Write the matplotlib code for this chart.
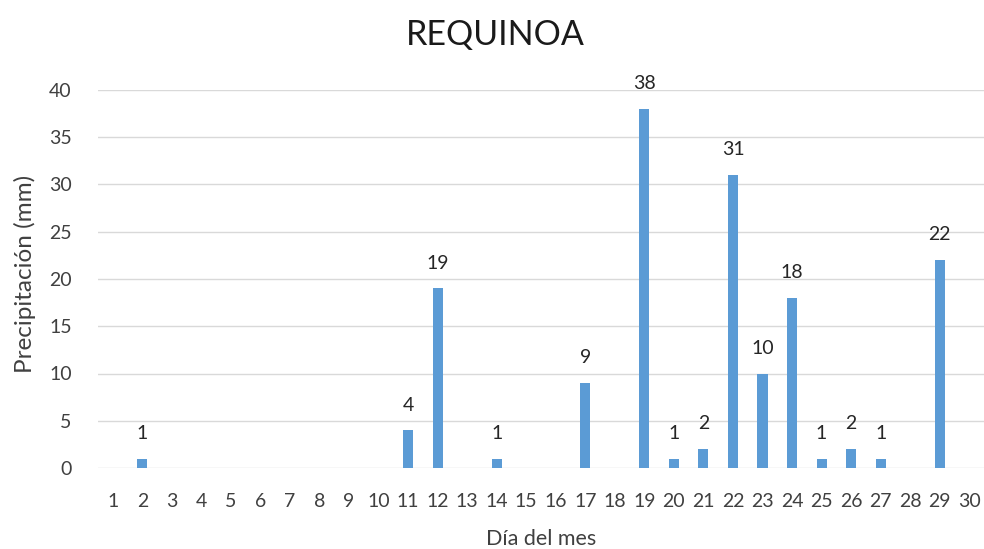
import matplotlib
matplotlib.use("Agg")
import matplotlib.pyplot as plt

days = list(range(1, 31))
values = [None, 1, None, None, None, None, None, None, None, None,
          4, 19, None, 1, None, None, 9, None, 38, 1,
          2, 31, 10, 18, 1, 2, 1, None, 22, None]
y_ticks = [0, 5, 10, 15, 20, 25, 30, 35, 40]
title = "REQUINOA"
xlabel = "Día del mes"
ylabel = "Precipitación (mm)"

plt.rcParams['font.family'] = ['Lato', 'DejaVu Sans']
W, H = 984, 549
fig = plt.figure(figsize=(W / 100, H / 100), dpi=100)
ax = fig.add_axes([98 / W, 81 / H, 886 / W, 378 / H])

bar_x = [d for d, v in zip(days, values) if v is not None]
bar_v = [v for v in values if v is not None]
ax.bar(bar_x, bar_v, width=0.34, color='#5B9BD5', zorder=3)
for x, v in zip(bar_x, bar_v):
    ax.annotate(str(v), (x, v), xytext=(0, 12), textcoords='offset points',
                ha='center', va='bottom', fontsize=14, color='#262626')

ax.set_xlim(0.5, 30.5)
ax.set_ylim(0, 40)
ax.set_xticks(days)
ax.set_xticklabels([str(d) for d in days])
ax.set_yticks(y_ticks)
ax.grid(axis='y', color='#D9D9D9', linewidth=1, zorder=0)
for s in ax.spines.values():
    s.set_visible(False)
ax.tick_params(axis='both', length=0, labelsize=14, colors='#404040')
ax.tick_params(axis='x', pad=18)
ax.tick_params(axis='y', pad=19)

fig.text(495 / W, 1 - 45 / H, title, fontsize=24.5, color='#1a1a1a',
         ha='center', va='baseline')
fig.text(541 / W, 1 - 545 / H, xlabel, fontsize=15.5, color='#404040',
         ha='center', va='baseline')
fig.text(25 / W, 1 - 274 / H, ylabel, fontsize=17.5, color='#404040',
         ha='center', va='center', rotation=90)

fig.savefig("out.png", dpi=100)
